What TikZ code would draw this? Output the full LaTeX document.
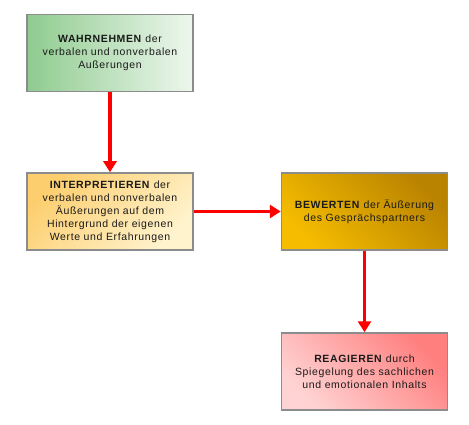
\documentclass[tikz,border=0pt]{standalone}
\usepackage{fontspec}
\setmainfont{Liberation Sans}[LetterSpace=6]
\usetikzlibrary{arrows.meta}

\definecolor{framegray}{HTML}{8C8C8C}
\definecolor{textdark}{HTML}{1A1A1A}
\definecolor{greendark}{HTML}{8FCB8F}
\definecolor{greenlight}{HTML}{EEF7EE}
\definecolor{orangedark}{HTML}{FDCE6E}
\definecolor{orangelight}{HTML}{FFF3CE}
\definecolor{golddark}{HTML}{B98300}
\definecolor{goldlight}{HTML}{F5BC00}
\definecolor{pinkdark}{HTML}{FF7E7E}
\definecolor{pinklight}{HTML}{FFD3D3}
\definecolor{arrowred}{HTML}{FF0000}

\tikzset{
  stagebox/.style={draw=framegray, line width=1.5pt, minimum width=166pt,
    minimum height=77pt, align=center, text=textdark,
    font=\fontsize{10.5}{13}\selectfont, inner sep=2pt},
  flowarrow/.style={draw=arrowred, line width=3.5pt,
    -{Triangle[width=13pt,length=11pt]}}
}

\begin{document}
\begin{tikzpicture}[x=1pt, y=-1pt]
		\useasboundingbox (0,0) rectangle (469,425);
		
		% Four stages
		\node[stagebox, left color=greendark, right color=greenlight] (perceive) at (110,53)
		  {\textbf{WAHRNEHMEN} der\\verbalen und nonverbalen\\Außerungen};
		\node[stagebox, top color=orangedark, bottom color=orangelight, shading angle=45] (interpret) at (110,211.5)
		  {\textbf{INTERPRETIEREN} der\\verbalen und nonverbalen\\Äußerungen auf dem\\Hintergrund der eigenen\\Werte und Erfahrungen};
		\node[stagebox, top color=golddark, bottom color=goldlight, shading angle=-45] (evaluate) at (364.5,211.5)
		  {\textbf{BEWERTEN} der Äußerung\\des Gesprächspartners};
		\node[stagebox, top color=pinkdark, bottom color=pinklight, shading angle=-45] (react) at (364.5,371.5)
		  {\textbf{REAGIEREN} durch\\Spiegelung des sachlichen\\und emotionalen Inhalts};
		
		% Red arrows between the stages
		\draw[flowarrow] (perceive) -- (interpret);
		\draw[flowarrow] (interpret) -- (evaluate);
		\draw[flowarrow] (evaluate) -- (react);
		
	\end{tikzpicture}
\end{document}
